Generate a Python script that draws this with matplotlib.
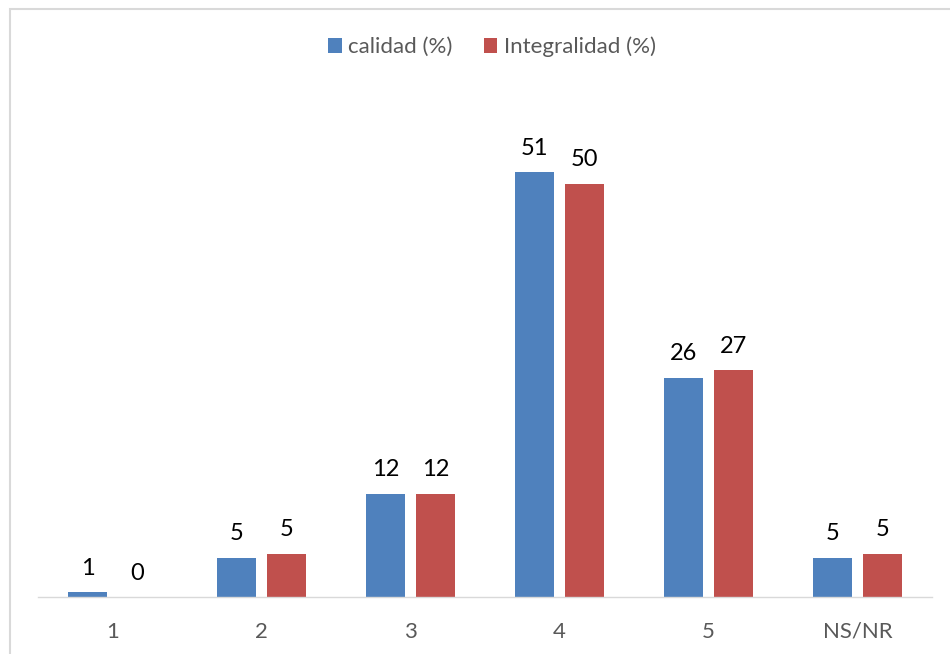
import matplotlib
matplotlib.use("Agg")
import matplotlib.pyplot as plt
import numpy as np
from matplotlib.patches import Rectangle

plt.rcParams['font.family'] = ['Lato', 'DejaVu Sans']

categorias = ['1', '2', '3', '4', '5', 'NS/NR']
calidad = [0.6, 4.7, 12.4, 51.0, 26.3, 4.7]
integralidad = [0.0, 5.2, 12.4, 49.6, 27.2, 5.2]

azul = '#4F81BD'
rojo = '#C0504D'

fig = plt.figure(figsize=(9.5, 6.54), dpi=100)
ax = fig.add_axes([38/950, 57/654, 894/950, 500/654])

x = np.arange(len(categorias))
w = 0.268
off = 0.168
b1 = ax.bar(x - off, calidad, w, color=azul, label='calidad (%)')
b2 = ax.bar(x + off, integralidad, w, color=rojo, label='Integralidad (%)')

for bars, vals in ((b1, calidad), (b2, integralidad)):
    for rect, v in zip(bars, vals):
        ax.text(rect.get_x() + rect.get_width()/2, v + 1.6, f"{v:.0f}",
                ha='center', va='bottom', fontsize=17, color='#000000')

ax.set_xlim(-0.5, len(categorias) - 0.5)
ax.set_ylim(0, 60)
ax.set_xticks(x)
ax.set_xticklabels(categorias, fontsize=16, color='#595959')
ax.tick_params(axis='x', length=0, pad=18)
ax.set_yticks([])
for s in ['top', 'right', 'left']:
    ax.spines[s].set_visible(False)
ax.spines['bottom'].set_color('#D9D9D9')
ax.spines['bottom'].set_linewidth(1.0)

fig.legend(loc='center', bbox_to_anchor=(492/950, 1 - 47/654), ncol=2, frameon=False,
           fontsize=16, labelcolor='#595959', handlelength=0.6, handleheight=0.6,
           handletextpad=0.3, columnspacing=1.4)

# marco del grafico
fig.patches.append(Rectangle((10/950, -0.05), 1.0, 1 - 9/654 + 0.05, transform=fig.transFigure,
                             fill=False, edgecolor='#D9D9D9', linewidth=1.5))

fig.savefig('out.png', dpi=100)
